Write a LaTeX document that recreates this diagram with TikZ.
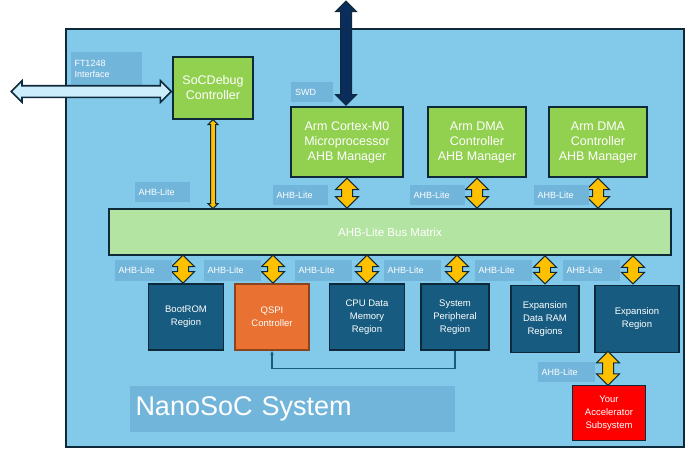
\documentclass[tikz,border=0pt]{standalone}
\usepackage{fontspec}
\setmainfont{Liberation Sans}
\usetikzlibrary{positioning, arrows.meta, shapes.arrows}
\definecolor{SysBlue}{HTML}{83CAEA}
\definecolor{TagBlue}{HTML}{72B5DB}
\definecolor{EdgeDark}{HTML}{0E2A3A}
\definecolor{MgrGreen}{HTML}{92D050}
\definecolor{BusGreen}{HTML}{B4E4A2}
\definecolor{RegionBlue}{HTML}{175C80}
\definecolor{QspiOrange}{HTML}{E97132}
\definecolor{AccelRed}{HTML}{FF0000}
\definecolor{LinkYellow}{HTML}{FFC000}
\definecolor{SwdNavy}{HTML}{0B2D5B}
\definecolor{PortBlue}{HTML}{CCEEFC}

\tikzset{
  blk/.style={draw=EdgeDark, line width=1.4pt, text=white, align=center, inner sep=0pt},
  mgr/.style={blk, fill=MgrGreen, font=\fontsize{12.5}{15}\selectfont},
  region/.style={blk, fill=RegionBlue, font=\fontsize{9.5}{13}\selectfont},
  tag/.style={fill=TagBlue, text=white, font=\fontsize{9}{11}\selectfont, inner sep=0pt, align=left},
  fatlink/.style={draw=EdgeDark, fill=LinkYellow, line width=1pt, double arrow, double arrow head extend=6pt,
    minimum height=30pt, inner sep=5pt, shape border rotate=90},
}

\begin{document}
\begin{tikzpicture}[x=1pt, y=-1pt]
  \useasboundingbox (0,0) rectangle (696,459);
  % system
  \node[draw=EdgeDark, line width=1.4pt, fill=SysBlue, minimum width=618pt, minimum height=418pt, inner sep=0pt]
    (sys) at (375,238) {};
  \node[tag, minimum width=325pt, minimum height=46pt, font=\fontsize{27}{29}\selectfont, text width=313pt]
    (title) at (292,409) {NanoSoC System};

  % managers
  \node[tag, minimum width=71pt, minimum height=34pt, text width=63pt] (fttag) at (106,69) {FT1248\\Interface};
  \node[mgr, minimum width=80pt, minimum height=62pt] (dbg) at (213,88) {SoCDebug\\Controller};
  \node[mgr, minimum width=112pt, minimum height=70pt] (cpu) at (347,142) {Arm Cortex-M0\\Microprocessor\\AHB Manager};
  \node[mgr, minimum width=98pt, minimum height=70pt] (dma1) at (477,142) {Arm DMA\\Controller\\AHB Manager};
  \node[mgr, minimum width=98pt, minimum height=70pt] (dma2) at (598,142) {Arm DMA\\Controller\\AHB Manager};
  \node[tag, minimum width=42pt, minimum height=20pt, text width=34pt] (swdtag) at (312,92) {SWD};
  \node[draw=EdgeDark, fill=BusGreen, line width=1.2pt, minimum width=562pt, minimum height=46pt, text=white,
    font=\fontsize{11.5}{13}\selectfont] (bus) at (390,232) {AHB-Lite Bus Matrix};

  % regions
  \node[region, minimum width=75pt, minimum height=66pt] (boot) at (186,317) {BootROM\\Region};
  \node[region, fill=QspiOrange, draw=QspiOrange!60!black, minimum width=74pt, minimum height=66pt] (qspi) at (272,317) {QSPI\\Controller};
  \node[region, minimum width=75pt, minimum height=66pt] (dmem) at (367,317) {CPU Data\\Memory\\Region};
  \node[region, minimum width=68pt, minimum height=66pt] (sper) at (455,317) {System\\Peripheral\\Region};
  \node[region, minimum width=68pt, minimum height=67pt] (xram) at (545,319) {Expansion\\Data RAM\\Regions};
  \node[region, minimum width=84pt, minimum height=67pt] (xreg) at (637,319) {Expansion\\Region};
  \node[blk, fill=AccelRed, minimum width=73pt, minimum height=55pt, font=\fontsize{9.5}{13}\selectfont] (accel) at (609,413) {Your\\Accelerator\\Subsystem};

  % external ports
  \coordinate (ftend) at (10,95);
  \coordinate (swdend) at (346,0);
  \path (ftend) -- (dbg.west) node[fatlink, fill=PortBlue, line width=1.6pt, shape border rotate=0,
    minimum height=160pt, double arrow head extend=5pt, midway] {};
  \path (swdend) -- (cpu.north -| swdend) node[fatlink, fill=SwdNavy, line width=1pt,
    minimum height=104pt, double arrow head extend=5pt, midway] {};

  % debug link
  \path (dbg.south) -- (dbg.south |- bus.north) node[fatlink, minimum height=89pt, inner sep=2pt,
    double arrow head extend=2.5pt, midway] {};
  \node[tag, minimum width=55pt, minimum height=20pt, text width=47pt] (tdbg) at (162,192) {AHB-Lite};

  % manager links
  \foreach \m/\lx in {cpu/300, dma1/437, dma2/561} {
    \path (\m.south) -- (\m.south |- bus.north) node[fatlink, midway] {};
    \node[tag, minimum width=55pt, minimum height=20pt, text width=47pt] at (\lx,195) {AHB-Lite};
  }

  % subordinate links
  \foreach \r/\ax/\lx in {boot/183/143, qspi/273/232, dmem/367/323, sper/457/412, xram/545/503, xreg/633/591} {
    \coordinate (bus\r) at (\ax,255);
    \path (bus\r) -- (bus\r |- \r.north) node[fatlink, midway, minimum height=28pt] {};
    \node[tag, minimum width=57pt, minimum height=21pt, text width=49pt] at (\lx,270) {AHB-Lite};
  }
  \coordinate (xregout) at (608,352);
  \path (xregout) -- (xregout |- accel.north) node[fatlink, midway, minimum height=34pt] {};
  \node[tag, minimum width=57pt, minimum height=20pt, text width=49pt] (tacc) at (566,372) {AHB-Lite};

  % peripheral to qspi
  \draw[RegionBlue, line width=1.3pt, -{Latex[length=4pt,width=4pt]}] (sper.south) |- ++(0,18) -| (qspi.south);
\end{tikzpicture}
\end{document}
